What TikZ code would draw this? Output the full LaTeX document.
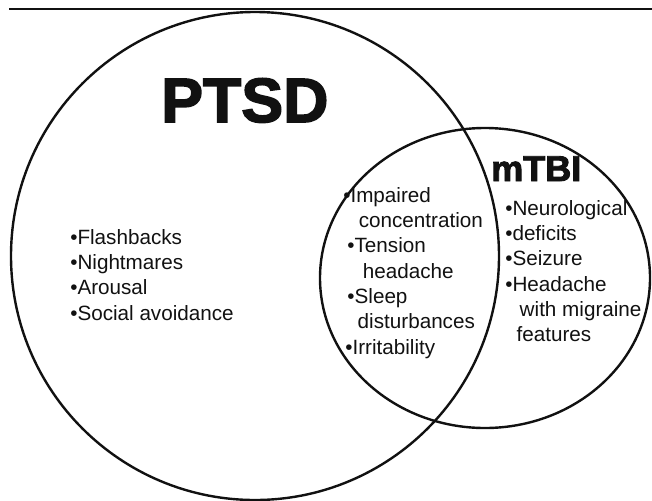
\documentclass[tikz,border=0pt]{standalone}
\usepackage{fontspec}
\setmainfont{Liberation Sans}
\newfontfamily\heavyfont[FakeBold=2.5]{Liberation Sans Bold}
\definecolor{vennInk}{HTML}{111111}

\begin{document}
\begin{tikzpicture}[x=0.75pt, y=-0.75pt,
        every node/.style={inner sep=0pt, text=vennInk, font=\fontsize{15.5}{19}\selectfont},
        ring/.style={draw=vennInk, line width=1.8pt},
        lst/.style={align=left, anchor=north west},
        ttl/.style={anchor=north west}
    ]
    \useasboundingbox (0,0) rectangle (652,500);
    \coordinate (rule l) at (9,9);
    \coordinate (rule r) at (652,9);
    \draw[draw=vennInk, line width=2pt] (rule l) -- (rule r);

    \draw[ring] (255,256) circle (244);
    \draw[ring] (485,278) ellipse [x radius=165, y radius=150];

    \node[ttl, font=\heavyfont\fontsize{47}{47}\selectfont] (ptsd) at (161,78) {PTSD};
    \node[ttl, font=\heavyfont\fontsize{27}{27}\selectfont] (mtbi) at (491,156) {mTBI};

    \node[lst] (ptsd list) at (70,229) {•Flashbacks\\•Nightmares\\•Arousal\\•Social avoidance};
    \node[lst] (both list) at (343,187) {•Impaired\\\hspace*{0.75em}concentration\\\hspace*{0.2em}•Tension\\\hspace*{0.95em}headache\\\hspace*{0.2em}•Sleep\\\hspace*{0.7em}disturbances\\\hspace*{0.1em}•Irritability};
    \node[lst] (mtbi list) at (505,200) {•Neurological\\•deficits\\•Seizure\\•Headache\\\hspace*{0.7em}with migraine\\\hspace*{0.55em}features};
\end{tikzpicture}
\end{document}
